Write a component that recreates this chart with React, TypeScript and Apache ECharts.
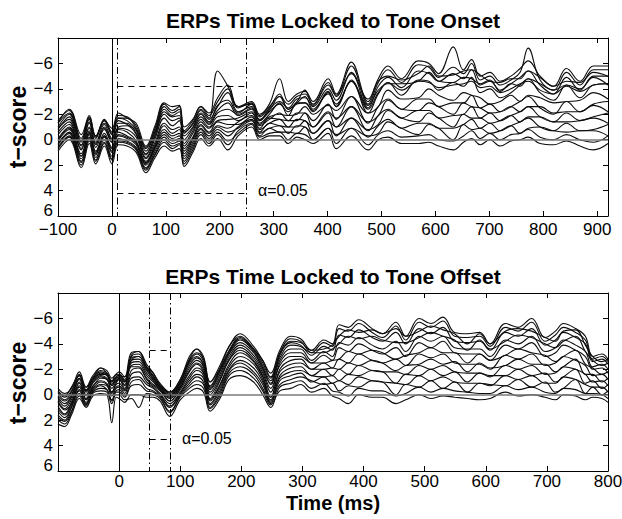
import React, { useEffect, useRef } from 'react';
import * as echarts from 'echarts';

// ---------- time samples (ms) ----------
const ONSET_TIME = [
  -100, -79, -57, -42, -30, -14, 0, 12, 28, 45, 63, 80, 97, 112, 125, 134, 150, 165, 180, 196, 215,
  234, 259, 274, 292, 311, 327, 343, 358, 373, 401, 416, 444, 475, 494, 512, 537, 568, 588, 606, 633,
  652, 667, 683, 701, 720, 740, 757, 772, 794, 819, 843, 868, 893, 920,
];
const OFFSET_TIME = [
  -100, -89, -78, -65, -54, -43, -30, -20, -12, -5, 0, 9, 20, 32, 45, 56, 67, 83, 100, 115, 127, 138,
  149, 165, 180, 198, 220, 235, 248,
  263, 281, 297, 315, 335, 349, 360, 375, 392, 414, 431, 453, 469, 491, 510, 530, 549, 570, 590, 607,
  632, 653, 675, 697, 714, 727, 747, 763, 775, 790, 800,
];

// ---------- t-scores, tone onset ----------
const onset01 = [-1.5,-2.3,-0.1,-1.8,-0.3,-1.6,-0.6,-1.9,-1.8,-1.1,0.6,-0.9,-2.8,-2.3,-2.6,-0.7,-1.5,-2.6,-1.9,-3.0,-4.0,
  -2.6,-3.0,-2.0,-2.8,-4.8,-3.0,-3.6,-3.8,-3.0,-4.8,-3.6,-6.1,-3.0,-4.8,-5.8,-4.8,-6.2,-6.0,-5.2,-7.3,-5.5,-6.3,-5.0,-5.3,-4.6,-5.0,-5.6,-6.2,-5.0,-4.2,-5.6,-4.6,-5.8,-5.8];
const onset02 = [-1.3,-2.4,-0.4,-1.9,-0.2,-1.5,-0.9,-2.1,-1.7,-1.3,0.5,-1.1,-2.9,-2.6,-2.7,-1.0,-1.6,-2.6,-2.1,-3.3,-4.3,
  -2.5,-2.9,-1.9,-2.6,-3.4,-2.8,-3.4,-3.6,-2.8,-4.5,-3.4,-5.8,-2.8,-4.5,-5.5,-4.5,-5.9,-5.7,-4.9,-5.7,-5.2,-6.0,-4.7,-5.0,-4.3,-4.7,-5.3,-7.2,-4.7,-3.9,-5.3,-4.3,-5.5,-5.5];
const onset03 = [-1.3,-2.1,0.1,-1.7,-0.1,-1.5,-0.4,-1.7,-1.7,-0.9,0.7,-0.7,-2.6,-2.1,-2.4,-0.5,-1.3,-2.4,-1.7,-5.4,-4.2,
  -2.6,-2.8,-1.8,-2.5,-3.6,-2.4,-3.0,-3.9,-2.7,-4.3,-3.5,-5.2,-3.2,-4.6,-5.0,-4.7,-5.2,-5.8,-5.0,-5.1,-5.4,-5.5,-5.1,-4.6,-4.5,-4.8,-4.8,-5.4,-4.9,-4.2,-4.6,-4.5,-5.3,-5.0];
const onset04 = [-0.8,-1.8,0.5,-1.4,0.2,-1.2,-0.1,-1.5,-1.2,-0.7,1.2,-0.4,-2.2,-1.8,-1.9,-0.3,-1.0,-2.1,-1.4,-2.7,-3.1,
  -2.1,-2.8,-1.5,-2.4,-3.0,-2.5,-3.2,-3.3,-2.6,-4.0,-3.1,-5.3,-2.5,-4.2,-4.9,-4.1,-5.4,-5.2,-4.6,-5.2,-4.8,-5.5,-4.3,-4.6,-3.9,-4.4,-4.9,-5.4,-4.3,-3.6,-4.9,-3.9,-5.0,-5.0];
const onset05 = [-1.0,-2.0,0.2,-1.6,-0.3,-1.3,-0.5,-1.7,-1.5,-0.8,0.9,-0.6,-2.4,-1.9,-2.2,-0.6,-1.2,-2.3,-1.6,-2.6,-3.7,
  -2.2,-2.6,-1.6,-2.3,-3.4,-2.4,-2.9,-3.4,-2.4,-3.6,-2.8,-4.6,-2.7,-3.9,-4.4,-4.4,-4.6,-5.3,-4.6,-4.5,-4.9,-4.8,-4.4,-4.7,-3.8,-4.4,-4.2,-4.8,-4.4,-3.9,-4.3,-4.0,-4.9,-4.3];
const onset06 = [-0.6,-1.4,0.7,-1.0,0.4,-0.9,0.2,-1.0,-1.1,-0.4,1.4,-0.1,-1.7,-1.1,-1.5,0.3,-0.7,-1.8,-1.2,-2.1,-2.4,
  -2.0,-2.5,-1.5,-2.2,-2.8,-2.2,-2.8,-2.9,-2.2,-3.7,-2.6,-4.7,-2.1,-3.6,-4.5,-3.5,-4.7,-4.6,-3.9,-4.5,-4.2,-4.9,-3.7,-4.0,-3.3,-3.7,-4.3,-4.8,-3.7,-3.1,-4.3,-3.3,-4.3,-4.4];
const onset07 = [-0.9,-1.6,0.4,-1.3,0.3,-1.0,0.0,-1.3,-1.3,-0.5,1.1,-0.3,-2.0,-1.5,-1.7,0.0,-0.9,-2.0,-1.3,-2.3,-2.9,
  -1.9,-2.4,-1.3,-2.0,-2.9,-1.9,-2.9,-2.9,-2.3,-3.8,-2.6,-4.6,-2.4,-3.7,-4.5,-3.9,-4.6,-4.5,-4.1,-4.3,-4.4,-4.6,-4.1,-4.2,-3.7,-4.0,-4.4,-4.6,-3.9,-3.6,-4.2,-3.8,-4.3,-4.4];
const onset08 = [-0.1,-1.0,1.1,-0.6,0.9,-0.5,0.6,-0.8,-0.6,0.1,1.7,0.4,-1.1,-0.5,-0.8,0.7,-0.2,-1.4,-0.9,-1.5,-1.6,
  -1.7,-2.2,-1.2,-1.8,-2.0,-1.9,-2.0,-2.6,-2.0,-2.7,-2.3,-3.4,-2.1,-2.6,-3.9,-3.2,-3.3,-4.0,-3.5,-3.1,-3.7,-3.5,-3.3,-2.8,-3.0,-3.5,-3.0,-3.5,-3.3,-2.9,-3.0,-3.1,-3.7,-3.2];
const onset09 = [-0.4,-1.2,0.8,-0.9,0.6,-0.8,0.2,-0.9,-0.8,-0.2,1.5,0.2,-1.3,-0.8,-1.0,0.5,-0.5,-1.6,-1.0,-1.8,-1.9,
  -1.5,-2.1,-1.1,-1.6,-2.1,-1.5,-2.1,-2.1,-1.5,-2.8,-1.6,-3.4,-1.3,-2.6,-3.2,-2.4,-3.2,-3.2,-2.6,-2.9,-2.9,-3.5,-2.5,-2.8,-2.2,-2.6,-3.0,-3.4,-2.5,-2.0,-3.0,-2.2,-2.8,-3.0];
const onset10 = [0.1,-0.8,1.3,-0.5,1.1,-0.3,0.9,-0.4,-0.2,0.3,1.9,0.6,-0.6,-0.1,-0.3,1.1,0.0,-1.1,-0.5,-1.1,-0.9,
  -1.4,-1.9,-0.9,-1.7,-1.6,-1.5,-1.5,-2.1,-1.0,-2.2,-1.7,-2.6,-1.4,-1.9,-3.1,-2.4,-2.3,-2.9,-2.6,-2.0,-2.9,-2.6,-2.5,-2.1,-2.2,-2.6,-2.2,-2.6,-2.6,-2.1,-2.2,-2.2,-2.7,-2.2];
const onset11 = [0.0,-0.9,1.3,-0.7,1.0,-0.3,0.7,-0.6,-0.3,0.2,1.8,0.5,-0.8,-0.3,-0.5,0.9,-0.1,-1.2,-0.6,-1.4,-1.2,
  -1.2,-1.8,-0.8,-1.3,-1.6,-1.0,-1.6,-1.5,-1.0,-2.1,-1.0,-2.6,-0.7,-1.9,-2.4,-1.7,-2.3,-2.3,-1.7,-1.9,-2.0,-2.6,-1.7,-2.1,-1.5,-1.9,-2.2,-2.6,-1.8,-1.4,-2.1,-1.5,-1.8,-2.1];
const onset12 = [0.4,-0.5,1.7,-0.2,1.4,0.0,1.3,-0.1,0.1,0.6,2.2,0.9,-0.2,0.3,0.1,1.5,0.4,-0.8,-0.1,-0.8,-0.3,
  -1.0,-1.6,-0.6,-1.3,-1.1,-1.0,-1.0,-1.5,-0.5,-1.5,-1.0,-1.7,-0.8,-1.2,-2.3,-1.7,-1.4,-2.1,-1.7,-1.0,-2.0,-1.7,-1.7,-1.3,-1.5,-1.9,-1.4,-1.8,-1.8,-1.4,-1.4,-1.5,-1.7,-1.3];
const onset13 = [0.3,-0.6,1.5,-0.4,1.2,-0.2,1.0,-0.3,-0.1,0.4,2.0,0.7,-0.4,0.1,-0.1,1.3,0.2,-0.9,-0.3,-1.0,-0.6,
  -0.9,-1.5,-0.5,-0.9,-1.1,-0.5,-1.1,-1.0,-0.5,-1.5,-0.3,-1.7,-0.2,-1.1,-1.6,-0.9,-1.3,-1.3,-0.9,-0.9,-1.2,-1.6,-0.9,-1.3,-0.7,-1.1,-1.4,-1.7,-1.0,-0.7,-1.3,-0.7,-0.8,-1.2];
const onset14 = [0.7,-0.2,2.0,0.1,1.7,0.3,1.6,0.2,0.3,0.8,2.4,1.2,0.2,0.7,0.4,1.9,0.8,-0.4,0.3,-0.4,0.4,
  -0.7,-1.3,-0.3,-0.9,-0.6,-0.6,-0.5,-1.0,0.0,-0.9,-0.4,-0.9,-0.3,-0.5,-1.4,-0.9,-0.4,-1.2,-0.9,0.0,-1.2,-0.8,-0.9,-0.5,-0.7,-1.1,-0.5,-0.9,-1.0,-0.7,-0.6,-0.7,-0.7,-0.3];
const onset15 = [0.6,-0.3,1.8,-0.1,1.6,0.2,1.5,0.1,0.2,0.7,2.3,1.1,0.0,0.5,0.3,1.7,0.6,-0.6,0.1,-0.6,0.1,
  -0.5,-1.2,-0.2,-0.5,-0.6,0.0,-0.5,-0.4,0.0,-0.9,0.3,-0.9,0.4,-0.4,-0.7,-0.2,-0.3,-0.4,0.0,0.1,-0.3,-0.7,-0.1,-0.5,0.0,-0.4,-0.5,-0.8,-0.2,0.0,-0.4,0.0,0.2,-0.3];
const onset16 = [0.9,0.0,2.2,0.3,1.9,0.5,1.9,0.4,0.5,1.0,2.6,1.4,0.5,0.9,0.7,2.1,1.0,-0.1,0.5,-0.1,0.8,
  -0.3,-1.0,0.0,-0.3,-0.3,0.3,-0.2,0.0,0.3,-0.5,0.7,-0.3,0.8,0.0,-0.2,0.3,0.3,0.2,0.5,0.8,0.2,-0.1,0.4,0.0,0.5,0.1,0.0,-0.2,0.3,0.4,0.1,0.5,0.8,0.3];

// ---------- t-scores, tone offset ----------
const offset01 = [-0.5,-0.1,-0.5,-1.8,-0.6,-1.5,-2.1,-1.9,-1.3,-1.6,-1.8,-1.4,-3.3,-3.4,-2.4,-1.7,-0.9,-0.2,-1.2,-3.0,-3.6,-3.0,-1.0,-2.3,-3.8,-4.8,-3.8,-2.7,-1.7,
  -3.5,-4.6,-4.4,-3.5,-4.3,-4.0,-5.5,-5.3,-5.9,-5.2,-4.8,-5.7,-4.6,-6.0,-5.6,-6.1,-4.9,-4.8,-4.9,-4.0,-5.6,-5.3,-6.0,-4.5,-5.0,-5.6,-5.2,-4.6,-3.0,-3.2,-2.8];
const offset02 = [-0.2,0.2,-0.3,-1.6,-0.4,-1.3,-1.9,-1.7,-1.1,-1.4,-1.6,-1.2,-3.0,-3.2,-2.2,-1.5,-0.8,-0.1,-1.0,-2.7,-3.3,-2.8,-0.7,-2.0,-3.5,-4.5,-3.6,-2.5,-1.3,
  -3.3,-4.4,-4.2,-3.3,-4.1,-3.8,-5.2,-5.0,-5.6,-4.9,-4.5,-5.4,-4.3,-5.7,-5.3,-5.8,-4.6,-4.5,-4.6,-3.8,-5.3,-5.0,-5.7,-4.2,-4.7,-5.3,-4.9,-4.3,-2.8,-3.0,-2.6];
const offset03 = [-0.3,0.1,-0.6,-1.5,-0.6,-1.3,-2.1,-1.7,-1.0,-1.6,-1.5,-1.4,-3.1,-3.4,-2.2,-1.7,-0.7,-0.2,-1.2,-2.8,-3.6,-2.8,-1.0,-2.1,-3.8,-4.6,-3.6,-2.7,-1.4,
  -3.2,-4.2,-4.1,-3.5,-3.6,-3.9,-4.6,-5.1,-4.9,-5.1,-4.8,-5.2,-4.6,-5.0,-5.4,-5.1,-4.8,-4.0,-4.8,-4.0,-5.0,-5.2,-5.0,-4.5,-4.2,-5.0,-5.1,-3.9,-3.0,-2.6,-2.8];
const offset04 = [0.2,0.7,0.1,-1.3,-0.2,-1.1,-1.7,-1.5,-0.8,-1.2,-1.4,-1.0,-2.7,-2.8,-1.9,-1.3,-0.6,0.1,-0.8,-2.3,-2.9,-2.4,-0.4,-1.6,-3.2,-4.1,-3.3,-2.1,-0.8,
  -3.1,-4.1,-3.9,-3.1,-3.8,-3.5,-4.7,-4.5,-5.1,-4.5,-4.2,-4.9,-4.0,-5.2,-4.8,-5.3,-4.2,-4.1,-4.2,-3.5,-4.9,-4.6,-5.2,-3.9,-4.3,-4.9,-4.5,-4.0,-2.6,-2.8,-2.4];
const offset05 = [-0.1,0.4,-0.2,-1.5,-0.3,-1.3,-1.8,-1.6,-1.0,-1.4,-1.6,-1.1,-2.9,-3.0,-2.1,-1.4,-0.7,0.0,-1.0,-2.6,-3.2,-2.6,-0.6,-1.9,-3.4,-4.4,-3.5,-2.3,-1.1,
  -2.9,-3.9,-3.8,-3.3,-3.3,-3.6,-4.0,-4.6,-4.4,-4.6,-4.3,-4.1,-4.1,-4.5,-4.9,-4.6,-4.3,-3.5,-4.3,-3.6,-4.2,-4.7,-4.5,-4.0,-3.7,-4.2,-4.6,-3.4,-2.7,-2.3,-2.5];
const offset06 = [0.1,0.5,0.0,-1.3,-0.3,-1.2,-1.6,-1.6,-0.8,-1.3,-1.4,-1.0,-2.7,-3.0,-2.0,-1.2,-0.6,0.1,-0.9,-2.5,-3.0,-2.4,-0.5,-1.8,-3.3,-4.3,-3.4,-2.1,-0.9,
  -2.7,-3.6,-3.6,-2.7,-3.4,-3.0,-4.1,-3.9,-4.5,-3.9,-3.6,-4.2,-3.4,-4.6,-4.2,-4.6,-3.7,-3.6,-3.6,-3.0,-4.3,-4.0,-4.6,-3.4,-3.7,-4.3,-3.9,-3.4,-2.2,-2.4,-2.0];
const offset07 = [0.5,1.1,0.4,-1.0,0.1,-0.9,-1.4,-1.2,-0.5,-1.0,-1.2,-0.7,-2.3,-2.4,-1.5,-1.0,-0.4,0.3,-0.6,-1.9,-2.5,-2.0,0.0,-1.2,-2.8,-3.7,-2.9,-1.7,-0.2,
  -2.5,-3.3,-3.3,-2.5,-3.1,-2.7,-3.7,-3.4,-4.0,-3.5,-3.2,-3.7,-3.0,-4.1,-3.7,-4.2,-3.3,-3.2,-3.2,-2.7,-3.9,-3.6,-4.1,-3.0,-3.3,-3.9,-3.5,-3.0,-2.0,-2.1,-1.7];
const offset08 = [0.3,0.9,0.2,-1.2,0.0,-1.0,-1.5,-1.3,-0.7,-1.1,-1.3,-0.8,-2.5,-2.6,-1.7,-1.1,-0.5,0.2,-0.7,-2.1,-2.7,-2.2,-0.2,-1.4,-3.0,-3.9,-3.1,-1.9,-0.5,
  -2.3,-3.0,-3.0,-2.5,-2.5,-2.7,-2.8,-3.4,-3.2,-3.5,-3.3,-2.8,-3.1,-3.3,-3.7,-3.3,-3.3,-2.5,-3.2,-2.7,-3.1,-3.6,-3.3,-3.1,-2.6,-3.0,-3.5,-2.4,-2.1,-1.6,-1.8];
const offset09 = [0.9,1.5,0.6,-0.7,0.3,-0.7,-1.1,-0.9,-0.2,-0.8,-0.9,-0.4,-1.9,-2.1,-1.2,-0.7,-0.3,0.5,-0.4,-1.5,-2.1,-1.7,0.4,-0.8,-2.4,-3.3,-2.6,-1.4,0.2,
  -2.0,-2.7,-2.8,-2.0,-2.5,-2.1,-2.8,-2.5,-3.2,-2.7,-2.5,-2.8,-2.3,-3.2,-2.9,-3.2,-2.5,-2.4,-2.4,-2.0,-3.1,-2.8,-3.2,-2.3,-2.5,-3.0,-2.7,-2.3,-1.5,-1.6,-1.2];
const offset10 = [0.6,1.2,0.7,-0.9,0.4,-0.6,-1.3,-1.2,-0.2,-0.9,-1.2,-0.5,-2.2,-2.2,-1.3,-0.8,-0.4,0.5,-0.5,-1.8,-2.4,-1.8,0.3,-1.1,-2.7,-3.5,-2.7,-1.5,0.2,
  -1.8,-2.4,-2.5,-2.0,-2.0,-2.1,-2.0,-2.5,-2.3,-2.7,-2.5,-1.9,-2.3,-2.4,-2.8,-2.4,-2.6,-1.8,-2.5,-2.1,-2.3,-2.8,-2.4,-2.4,-1.8,-2.2,-2.8,-1.6,-1.6,-1.0,-1.3];
const offset11 = [1.3,1.8,1.0,-0.4,0.6,-0.4,-0.8,-0.7,0.1,-0.5,-0.6,-0.1,-1.3,-1.4,-0.8,-0.5,0.0,0.9,-0.1,-1.1,-1.6,-1.3,0.7,-0.5,-2.0,-2.7,-2.1,-1.0,0.5,
  -1.5,-2.1,-2.2,-1.5,-2.0,-1.5,-2.0,-1.6,-2.3,-1.9,-1.8,-1.8,-1.6,-2.3,-2.0,-2.3,-1.8,-1.7,-1.7,-1.4,-2.3,-2.0,-2.3,-1.6,-1.7,-2.2,-2.0,-1.6,-1.0,-1.1,-0.7];
const offset12 = [1.1,1.6,0.8,-0.6,0.4,-0.5,-1.0,-0.8,-0.1,-0.6,-0.7,-0.3,-1.6,-1.8,-1.0,-0.6,-0.1,0.7,-0.2,-1.3,-1.9,-1.5,0.5,-0.7,-2.2,-3.0,-2.4,-1.2,0.4,
  -1.3,-1.8,-1.9,-1.5,-1.4,-1.5,-1.1,-1.6,-1.5,-1.9,-1.8,-0.9,-1.6,-1.5,-2.0,-1.5,-1.8,-1.0,-1.7,-1.5,-1.5,-2.0,-1.5,-1.7,-1.0,-1.4,-2.0,-0.9,-1.1,-0.5,-0.8];
const offset13 = [1.8,2.1,1.3,-0.1,0.8,-0.2,-0.5,-0.4,0.5,-0.2,-0.2,0.2,-0.7,-0.8,-0.3,-0.2,0.2,1.3,0.1,-0.7,-1.1,-0.8,1.0,-0.1,-1.7,-2.2,-1.6,-0.5,0.7,
  -1.1,-1.5,-1.7,-1.0,-1.4,-0.9,-1.1,-0.8,-1.4,-1.1,-1.0,-0.9,-0.8,-1.5,-1.1,-1.4,-1.0,-0.9,-0.9,-0.7,-1.5,-1.2,-1.5,-0.9,-0.9,-1.4,-1.2,-0.8,-0.6,-0.6,-0.2];
const offset14 = [1.6,2.0,1.0,-0.3,0.7,-0.3,-0.7,-0.4,0.4,-0.3,-0.4,0.1,-1.0,-1.2,-0.5,-0.3,0.1,1.0,0.0,-0.9,-1.4,-1.0,0.8,-0.3,-1.9,-2.5,-1.8,-0.8,0.6,
  -0.8,-1.2,-1.4,-1.1,-0.8,-0.9,-0.3,-0.7,-0.6,-1.1,-1.0,0.0,-0.8,-0.6,-1.1,-0.5,-1.0,-0.2,-0.9,-0.8,-0.7,-1.2,-0.6,-1.0,-0.2,-0.5,-1.2,-0.1,-0.6,0.0,-0.3];
const offset15 = [2.3,2.5,1.6,0.3,1.0,0.1,-0.1,0.0,2.2,0.2,0.3,0.6,0.0,0.0,0.2,0.2,0.5,1.7,0.4,-0.2,-0.5,-0.2,1.3,0.3,-1.2,-1.5,-1.0,0.0,1.0,
  -0.6,-0.9,-1.1,-0.5,-0.9,-0.3,-0.2,0.1,-0.5,-0.3,-0.3,0.1,-0.1,-0.6,-0.2,-0.5,-0.3,-0.2,-0.1,-0.1,-0.7,-0.4,-0.6,-0.2,-0.1,-0.5,-0.4,-0.1,-0.1,0.0,0.3];
const offset16 = [2.0,2.3,1.4,0.1,0.9,-0.1,-0.3,-0.2,0.7,0.0,0.0,0.4,0.3,1.0,-0.1,0.0,0.3,1.4,0.2,-0.5,-0.8,-0.5,1.1,0.1,-1.5,-1.9,-1.3,-0.3,0.8,
  -0.3,-0.5,-0.8,-0.2,-0.5,0.1,0.3,0.7,0.0,0.2,0.2,0.7,0.4,0.0,0.3,0.1,0.2,0.3,0.4,0.3,-0.2,0.1,0.0,0.2,0.4,0.0,0.1,0.4,0.2,0.3,0.6];

const ONSET_TRACES = [onset01, onset02, onset03, onset04, onset05, onset06, onset07, onset08,
  onset09, onset10, onset11, onset12, onset13, onset14, onset15, onset16];
const OFFSET_TRACES = [offset01, offset02, offset03, offset04, offset05, offset06, offset07, offset08,
  offset09, offset10, offset11, offset12, offset13, offset14, offset15, offset16];

// analysis windows (ms) and alpha = 0.05 thresholds (t)
const ONSET_WINDOW = [10, 250];
const ONSET_THRESHOLD = 4.2;
const OFFSET_WINDOW = [50, 83];
const OFFSET_THRESHOLD = 3.5;

const TITLES = ['ERPs Time Locked to Tone Onset', 'ERPs Time Locked to Tone Offset'];
const Y_NAME = 't\u2212score';
const X_NAME = 'Time (ms)';
const ALPHA_LABEL = '\u03b1=0.05';

const FONT = '"Liberation Sans", Arial, Helvetica, sans-serif';
const minus = (v: number) => String(v).replace('-', '\u2212');

function buildOption() {
  const axisLine = { show: true, onZero: false, lineStyle: { color: '#000', width: 1 } };
  const axisTick = { show: true, inside: true, length: 5, lineStyle: { color: '#000', width: 1 } };
  const labelBase = { show: true, color: '#000', fontSize: 17, lineHeight: 12, fontFamily: FONT };
  const xLabel = (hide: number[], margin: number) => ({
    ...labelBase,
    margin,
    formatter: (v: number) => (v % 100 !== 0 || hide.includes(v) ? '' : minus(v)),
  });
  const yLabel = {
    ...labelBase,
    margin: 5,
    // the bottom value sits just above the corner, as in the reference
    formatter: (v: number) => (v === -8 ? '' : v === 6 ? '{low|6}' : minus(v)),
    rich: {
      low: { fontSize: 17, lineHeight: 12, color: '#000', fontFamily: FONT, padding: [0, 0, 12, 0] },
    },
  };
  const xAx = (grid: number, max: number, pos: string, label: any) => ({
    type: 'value', gridIndex: grid, min: -100, max, interval: 100, position: pos,
    axisLine, axisTick, axisLabel: label, splitLine: { show: false },
  });
  const yAx = (grid: number, pos: string, label: any) => ({
    type: 'value', gridIndex: grid, min: -8, max: 6, interval: 2, inverse: true, position: pos,
    axisLine, axisTick, axisLabel: label, splitLine: { show: false },
  });

  const dashDot = { color: '#000', width: 1, type: [7, 3, 1.5, 3] };
  const dashed = { color: '#000', width: 1, type: [6, 5] };
  const marks = (win: number[], thr: number) => ({
    silent: true,
    symbol: ['none', 'none'],
    label: { show: false },
    emphasis: { disabled: true },
    data: [
      { yAxis: 0, lineStyle: { color: '#7a7a7a', width: 1.5, type: 'solid' } },
      { xAxis: 0, lineStyle: { color: '#000', width: 1, type: 'solid' } },
      { xAxis: win[0], lineStyle: dashDot },
      { xAxis: win[1], lineStyle: dashDot },
      [{ coord: [win[0], -thr], lineStyle: dashed }, { coord: [win[1], -thr] }],
      [{ coord: [win[0], thr], lineStyle: dashed }, { coord: [win[1], thr] }],
    ],
  });

  const makeSeries = (traces: number[][], time: number[], axisIdx: number, win: number[], thr: number) =>
    traces.map((vals, k) => ({
      type: 'line',
      xAxisIndex: axisIdx,
      yAxisIndex: axisIdx,
      data: time.map((t, i) => [t, vals[i]]).filter((p) => p[1] !== undefined),
      symbol: 'none',
      smooth: 0.4,
      silent: true,
      lineStyle: { color: '#0d0d0d', width: 1.1 },
      emphasis: { disabled: true },
      markLine: k === 0 ? marks(win, thr) : undefined,
    }));

  const txt = (text: string, x: number, y: number, font: string, align = 'center', rotation = 0) => ({
    type: 'text',
    x, y, rotation,
    silent: true,
    style: {
      text, font, fill: '#000',
      align, verticalAlign: 'middle',
      textAlign: align, textVerticalAlign: 'middle',
    },
  });

  return {
    animation: false,
    backgroundColor: '#fff',
    grid: [
      { left: 58, top: 38, width: 550, height: 178, outerBoundsMode: 'none', containLabel: false },
      { left: 58, top: 293, width: 550, height: 178, outerBoundsMode: 'none', containLabel: false },
    ],
    xAxis: [
      xAx(0, 920, 'bottom', xLabel([], 7)),
      xAx(0, 920, 'top', { show: false }),
      xAx(1, 800, 'bottom', xLabel([-100], 4)),
      xAx(1, 800, 'top', { show: false }),
    ],
    yAxis: [
      yAx(0, 'left', yLabel),
      yAx(0, 'right', { show: false }),
      yAx(1, 'left', yLabel),
      yAx(1, 'right', { show: false }),
    ],
    series: [
      ...makeSeries(ONSET_TRACES, ONSET_TIME, 0, ONSET_WINDOW, ONSET_THRESHOLD),
      ...makeSeries(OFFSET_TRACES, OFFSET_TIME, 2, OFFSET_WINDOW, OFFSET_THRESHOLD),
    ],
    graphic: [
      txt(TITLES[0], 333, 20, `bold 21px ${FONT}`),
      txt(TITLES[1], 333, 276, `bold 21px ${FONT}`),
      txt(Y_NAME, 18, 127, `bold 23px ${FONT}`, 'center', Math.PI / 2),
      txt(Y_NAME, 18, 383, `bold 23px ${FONT}`, 'center', Math.PI / 2),
      txt(X_NAME, 333, 503, `bold 20px ${FONT}`),
      txt(ALPHA_LABEL, 258, 190, `16px ${FONT}`, 'left'),
      txt(ALPHA_LABEL, 182, 438, `16px ${FONT}`, 'left'),
    ],
  };
}

export default function App() {
  const ref = useRef<HTMLDivElement>(null);
  useEffect(() => {
    if (!ref.current) return;
    const chart = echarts.init(ref.current, null, { renderer: 'svg' });
    chart.setOption(buildOption() as any);
    return () => chart.dispose();
  }, []);
  return (
    <div
      ref={ref}
      style={{ position: 'absolute', left: 0, top: 0, width: 622, height: 519 }}
    />
  );
}
